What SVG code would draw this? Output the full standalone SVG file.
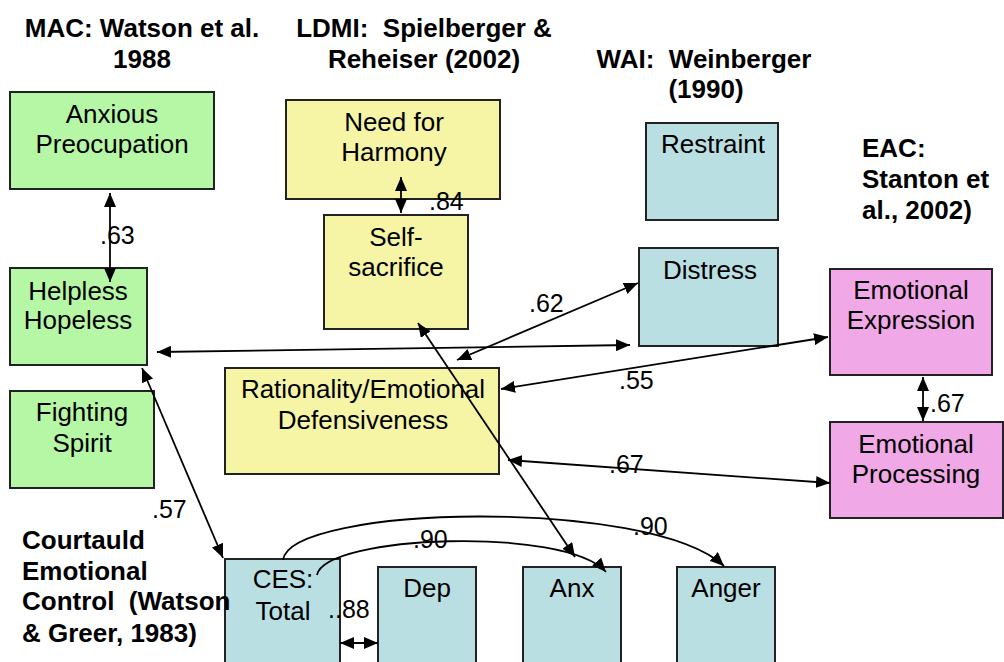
<svg xmlns="http://www.w3.org/2000/svg" width="1004" height="662" viewBox="0 0 1004 662">
<defs>
<style>
.t{font-family:"Liberation Sans",Arial,sans-serif;font-size:26px;fill:#000;text-anchor:middle}
.h{font-family:"Liberation Sans",Arial,sans-serif;font-size:26px;font-weight:bold;fill:#000}
.n{font-family:"Liberation Sans",Arial,sans-serif;font-size:25px;fill:#000}
.g{fill:#b5f7a5;stroke:#222;stroke-width:2}
.y{fill:#f5f5a5;stroke:#222;stroke-width:2}
.b{fill:#b9dfe2;stroke:#222;stroke-width:2}
.p{fill:#f0a9e6;stroke:#222;stroke-width:2}
.c{fill:none;stroke:#000;stroke-width:1.8;marker-end:url(#ah)}
.d{marker-start:url(#ah)}
</style>
<marker id="ah" viewBox="0 0 14 12" refX="14" refY="6" markerWidth="14" markerHeight="12" markerUnits="userSpaceOnUse" orient="auto-start-reverse">
<path d="M0,0 L14,6 L0,12 z" fill="#000"/>
</marker>
</defs>
<rect width="1004" height="662" fill="#fff"/>

<g id="anxious">
<rect class="g" x="10" y="92" width="204" height="97"/>
<text class="t" x="112" y="123">Anxious</text>
<text class="t" x="112" y="153">Preocupation</text>
</g>
<g id="helpless">
<rect class="g" x="10" y="268" width="137" height="97"/>
<text class="t" x="78" y="300">Helpless</text>
<text class="t" x="78" y="329">Hopeless</text>
</g>
<g id="fighting">
<rect class="g" x="10" y="391" width="144" height="97"/>
<text class="t" x="82" y="421">Fighting</text>
<text class="t" x="82" y="452">Spirit</text>
</g>
<g id="harmony">
<rect class="y" x="286" y="100" width="214" height="99"/>
<text class="t" x="394" y="131">Need for</text>
<text class="t" x="394" y="161">Harmony</text>
</g>
<g id="selfsacrifice">
<rect class="y" x="324" y="215" width="144" height="114"/>
<text class="t" x="396" y="246">Self-</text>
<text class="t" x="396" y="276">sacrifice</text>
</g>
<g id="rationality">
<rect class="y" x="225" y="368" width="274" height="106"/>
<text class="t" x="363" y="398">Rationality/Emotional</text>
<text class="t" x="363" y="429">Defensiveness</text>
</g>
<g id="restraint">
<rect class="b" x="646" y="123" width="132" height="97"/>
<text class="t" x="713" y="153">Restraint</text>
</g>
<g id="distress">
<rect class="b" x="639" y="248" width="139" height="98"/>
<text class="t" x="710" y="279">Distress</text>
</g>
<g id="expression">
<rect class="p" x="830" y="269" width="162" height="106"/>
<text class="t" x="911" y="299">Emotional</text>
<text class="t" x="911" y="329">Expression</text>
</g>
<g id="processing">
<rect class="p" x="830" y="422" width="173" height="96"/>
<text class="t" x="916" y="453">Emotional</text>
<text class="t" x="916" y="483">Processing</text>
</g>
<g id="ces">
<rect class="b" x="225" y="559" width="115" height="110"/>
<text class="t" x="283" y="588">CES:</text>
<text class="t" x="283" y="620">Total</text>
</g>
<g id="dep">
<rect class="b" x="378" y="567" width="98" height="100"/>
<text class="t" x="427" y="597">Dep</text>
</g>
<g id="anx">
<rect class="b" x="523" y="567" width="98" height="100"/>
<text class="t" x="572" y="597">Anx</text>
</g>
<g id="anger">
<rect class="b" x="677" y="567" width="98" height="100"/>
<text class="t" x="726" y="597">Anger</text>
</g>

<g id="titles">
<text class="h" x="142" y="37" text-anchor="middle">MAC: Watson et al.</text>
<text class="h" x="142" y="68" text-anchor="middle">1988</text>
<text class="h" x="424" y="37" text-anchor="middle" xml:space="preserve">LDMI:  Spielberger &amp;</text>
<text class="h" x="424" y="68" text-anchor="middle">Reheiser (2002)</text>
<text class="h" x="704" y="68" text-anchor="middle" xml:space="preserve">WAI:  Weinberger</text>
<text class="h" x="706" y="98" text-anchor="middle">(1990)</text>
<text class="h" x="862" y="157">EAC:</text>
<text class="h" x="862" y="188">Stanton et</text>
<text class="h" x="862" y="219">al., 2002)</text>
<text class="h" x="22" y="549">Courtauld</text>
<text class="h" x="22" y="580">Emotional</text>
<text class="h" x="22" y="610" xml:space="preserve">Control  (Watson</text>
<text class="h" x="22" y="642">&amp; Greer, 1983)</text>
</g>

<g id="connectors">
<line class="c d" x1="110" y1="193" x2="110" y2="282"/>
<line class="c d" x1="401" y1="177" x2="401" y2="213"/>
<line class="c d" x1="157" y1="352" x2="630" y2="345"/>
<line class="c d" x1="457" y1="360" x2="638" y2="283"/>
<line class="c d" x1="418" y1="323" x2="575" y2="557"/>
<line class="c d" x1="142" y1="368" x2="223" y2="558"/>
<line class="c d" x1="501" y1="389" x2="828" y2="337"/>
<line class="c d" x1="508" y1="460" x2="830" y2="483"/>
<line class="c d" x1="923" y1="377" x2="923" y2="421"/>
<line class="c d" x1="340" y1="643" x2="378" y2="643"/>
<path class="c" d="M317,575 C325,535 565,526 606,572"/>
<path class="c" d="M283,560 C290,505 650,497 724,566"/>
</g>

<g id="labels">
<text class="n" x="100" y="244">.63</text>
<text class="n" x="429" y="210">.84</text>
<text class="n" x="529" y="312">.62</text>
<text class="n" x="619" y="389">.55</text>
<text class="n" x="930" y="412">.67</text>
<text class="n" x="609" y="473">.67</text>
<text class="n" x="152" y="518">.57</text>
<text class="n" x="413" y="548">.90</text>
<text class="n" x="633" y="535">.90</text>
<text class="n" x="328" y="618">..88</text>
</g>
</svg>
